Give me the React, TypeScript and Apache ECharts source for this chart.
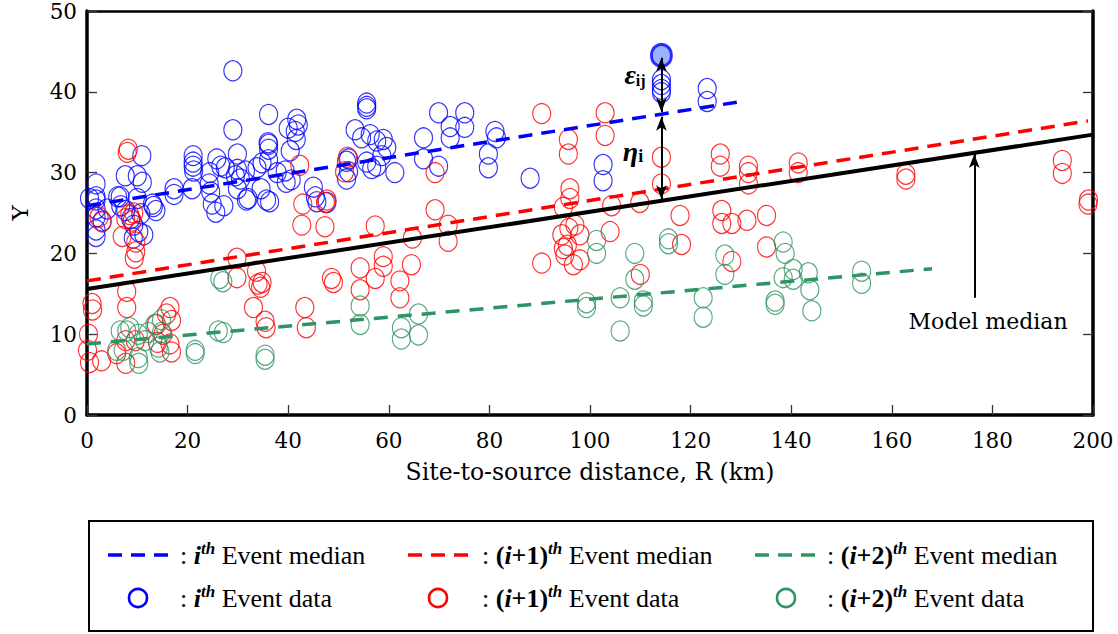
import React, { useEffect, useRef } from "react";
import * as echarts from "echarts";

// ---------- data ----------
const blueData: number[][] = [
  [29.0, 42.6], [29.0, 35.3], [36.1, 37.2], [41.7, 36.6], [42.0, 35.9], [41.4, 35.1], [41.6, 34.1],
  [36.1, 33.5], [36.1, 32.9], [40.4, 32.7], [10.9, 32.1], [21.1, 32.1], [21.1, 31.3], [21.1, 30.8],
  [21.2, 30.2], [25.8, 31.7], [26.6, 30.8], [29.9, 32.3], [29.9, 30.4], [7.6, 29.6], [10.0, 29.6],
  [11.0, 28.8], [24.4, 30.0], [27.5, 30.6], [29.5, 29.6], [31.5, 30.2], [33.8, 30.6], [34.8, 31.2],
  [36.1, 31.6], [37.8, 30.0], [39.4, 30.2], [39.6, 28.8], [1.8, 28.6], [1.8, 27.0], [1.8, 26.6],
  [1.8, 25.5], [1.8, 24.5], [1.8, 22.9], [1.8, 22.1], [4.0, 25.5], [6.6, 27.0], [6.7, 25.9],
  [7.7, 25.3], [8.7, 24.3], [9.3, 23.5], [10.3, 22.7], [11.3, 22.3], [10.0, 26.8], [10.7, 24.9],
  [13.0, 26.1], [13.7, 25.3], [17.3, 28.0], [17.3, 27.3], [20.9, 28.0], [24.3, 28.6], [24.6, 27.6],
  [24.9, 26.1], [25.6, 25.1], [27.2, 25.9], [30.5, 29.2], [29.9, 28.0], [32.0, 26.8], [34.6, 28.0],
  [36.3, 26.4], [35.7, 26.6], [31.7, 26.6], [40.6, 29.1], [45.0, 28.2], [45.4, 27.0], [45.7, 26.4],
  [47.7, 26.3], [40.0, 35.5], [36.0, 33.7], [55.6, 38.6], [55.6, 38.2], [55.6, 37.9], [53.3, 35.3],
  [54.6, 34.3], [56.3, 34.7], [57.6, 33.9], [58.9, 34.1], [59.6, 33.1], [58.6, 32.1], [57.6, 30.8],
  [61.2, 30.0], [55.6, 31.3], [56.6, 30.5], [51.6, 31.4], [51.6, 29.2], [52.0, 31.7], [52.0, 30.1],
  [66.9, 34.3], [66.9, 31.7], [69.9, 30.8], [69.9, 37.4], [72.2, 35.7], [72.2, 34.3], [75.1, 37.4],
  [75.1, 35.6], [79.8, 32.3], [79.8, 30.6], [81.1, 35.1], [81.4, 34.3], [88.1, 29.3], [114.2, 41.5],
  [114.2, 40.9], [114.2, 40.3], [114.2, 39.9], [123.3, 40.4], [123.3, 38.8], [102.6, 31.0],
  [102.6, 29.0], [13.2, 25.8], [6.1, 27.0], [0.5, 26.8], [3.0, 24.0], [9.2, 21.9]
];

const blueHighlight: number[][] = [[114.2, 44.5]];

const redData: number[][] = [
  [8.2, 32.9], [8.0, 32.5], [42.3, 30.9], [42.9, 26.1], [47.4, 26.3], [47.7, 26.6], [2.4, 24.5],
  [3.0, 23.9], [7.7, 24.3], [8.5, 24.8], [9.0, 24.0], [9.3, 25.0], [7.0, 22.1], [9.7, 21.4],
  [9.7, 20.2], [9.4, 19.4], [42.7, 23.5], [47.3, 23.3], [29.8, 19.4], [29.8, 17.0], [33.7, 17.8],
  [34.0, 16.2], [34.5, 15.8], [34.8, 16.4], [33.1, 13.3], [35.4, 11.6], [35.6, 10.8], [43.3, 13.3],
  [43.6, 10.8], [48.6, 16.9], [49.0, 16.4], [1.0, 13.8], [1.1, 13.0], [7.9, 15.3], [7.9, 13.3],
  [0.3, 10.0], [0.1, 8.0], [0.5, 6.5], [2.9, 6.7], [5.9, 7.6], [7.7, 6.4], [7.7, 9.2], [9.6, 9.2],
  [15.8, 12.5], [16.5, 13.3], [16.8, 11.7], [13.8, 11.2], [15.1, 10.0], [16.5, 8.8], [16.8, 7.8],
  [14.0, 9.0], [54.3, 18.2], [54.3, 15.5], [57.3, 23.4], [57.3, 16.9], [58.9, 19.6], [58.9, 18.4],
  [64.7, 21.9], [64.5, 18.6], [62.2, 16.6], [62.2, 14.5], [69.2, 25.4], [71.8, 23.5], [71.8, 21.5],
  [90.4, 18.8], [94.4, 22.3], [94.7, 20.6], [95.0, 19.8], [95.8, 23.1], [96.7, 18.6], [97.0, 23.5],
  [95.5, 21.0], [94.7, 25.7], [90.4, 37.3], [95.7, 34.1], [95.7, 32.3], [96.0, 28.0], [96.0, 26.8],
  [51.8, 31.9], [51.2, 30.1], [69.2, 30.0], [103.0, 37.4], [103.0, 34.6], [114.2, 31.9],
  [114.2, 28.6], [125.9, 32.3], [125.9, 30.8], [131.5, 30.8], [131.5, 30.0], [131.5, 28.6],
  [141.4, 31.2], [141.4, 30.0], [104.3, 25.9], [109.9, 26.3], [117.9, 24.7], [126.2, 25.3],
  [126.2, 23.7], [128.2, 23.7], [131.2, 24.1], [135.1, 24.7], [104.0, 22.7], [118.2, 21.1],
  [135.1, 20.8], [128.2, 19.0], [110.0, 17.4], [98.0, 22.3], [98.0, 19.2], [162.8, 29.8],
  [162.8, 29.2], [193.9, 31.5], [193.9, 29.9], [199.1, 26.6], [199.0, 26.1]
];

const greenData: number[][] = [
  [26.4, 16.9], [27.0, 16.5], [6.6, 10.4], [7.9, 10.4], [8.5, 10.8], [5.9, 8.0], [7.2, 8.0],
  [10.2, 7.1], [10.3, 6.4], [10.2, 10.0], [11.5, 9.2], [12.2, 10.2], [13.5, 11.2], [14.8, 11.8],
  [14.8, 10.2], [14.2, 8.4], [14.5, 7.8], [21.5, 8.0], [21.5, 7.6], [26.1, 10.4], [27.1, 10.2],
  [35.4, 7.4], [35.4, 6.9], [54.3, 13.5], [54.3, 11.2], [62.5, 10.8], [62.5, 9.4], [65.9, 12.5],
  [65.9, 9.9], [99.3, 13.9], [99.3, 13.3], [101.3, 21.6], [101.3, 20.0], [106.0, 14.5],
  [106.0, 10.4], [108.9, 20.0], [108.9, 16.8], [110.6, 14.1], [110.6, 13.5], [115.6, 21.8],
  [115.6, 21.2], [122.5, 14.5], [122.5, 12.1], [126.8, 19.8], [126.8, 17.4], [136.8, 14.1],
  [136.8, 13.7], [138.4, 21.4], [138.8, 20.0], [138.4, 17.0], [140.4, 18.0], [140.4, 16.8],
  [143.4, 17.6], [143.7, 15.5], [144.1, 12.9], [154.0, 17.8], [154.0, 16.3]
];

const modelMedian: number[][] = [[0, 15.6], [200, 34.7]];
const blueMedian: number[][] = [[0, 25.9], [130, 38.8]];
const redMedian: number[][] = [[0, 16.6], [199, 36.4]];
const greenMedian: number[][] = [[0, 8.8], [168, 18.1]];

// annotation arrows (data coords)
const epsArrow: number[][] = [[114.2, 44.2], [114.2, 37.5]];
const etaArrow: number[][] = [[114.2, 36.9], [114.2, 26.7]];
const modelArrow: number[][] = [[176.4, 14.5], [176.4, 32.3]];

const xTicks = [0, 20, 40, 60, 80, 100, 120, 140, 160, 180, 200];
const yTicks = [0, 10, 20, 30, 40, 50];

const BLUE = "#0000ff";
const RED = "#ff0000";
const GREEN = "#2e9463";
const AXIS_FONT = "DejaVu Serif";
const LEGEND_FONT = "Liberation Serif";

export default function App() {
  const ref = useRef<HTMLDivElement>(null);

  useEffect(() => {
    if (!ref.current) return;
    const chart = echarts.init(ref.current, undefined, { renderer: "svg" });

    const scatter = (name: string, data: number[][], color: string) => ({
      name,
      type: "scatter",
      data,
      symbol: "circle",
      symbolSize: [18, 20],
      itemStyle: { color: "transparent", borderColor: color, borderWidth: 1.2 },
      silent: true,
      z: 2,
    });

    const median = (name: string, data: number[][], color: string, width: number, dash: any) => ({
      name,
      type: "line",
      data,
      showSymbol: false,
      symbol: "none",
      lineStyle: { color, width, type: dash },
      silent: true,
      z: 4,
    });

    const arrowLine = (pts: number[][], startSym: string, endSym: string) => [
      { coord: pts[0], symbol: startSym, symbolSize: [8, 14] },
      { coord: pts[1], symbol: endSym, symbolSize: [8, 14] },
    ];

    const lf = 26;
    const rich = {
      n: { fontFamily: LEGEND_FONT, fontSize: lf, fill: "#000", lineHeight: 30 },
      b: { fontFamily: LEGEND_FONT, fontSize: lf, fontWeight: "bold", fill: "#000", lineHeight: 30 },
      bi: { fontFamily: LEGEND_FONT, fontSize: lf, fontWeight: "bold", fontStyle: "italic", fill: "#000", lineHeight: 30 },
      sup: { fontFamily: LEGEND_FONT, fontSize: 17, fontWeight: "bold", fontStyle: "italic", fill: "#000", verticalAlign: "top", lineHeight: 30 },
    };

    const legendText = (x: number, y: number, text: string) => ({
      type: "text",
      x,
      y,
      style: { text, rich, verticalAlign: "middle", align: "left", fill: "#000" },
      silent: true,
    });
    const legendLine = (x: number, y: number, color: string) => ({
      type: "line",
      shape: { x1: x, y1: y, x2: x + 60, y2: y },
      style: { stroke: color, lineWidth: 3.5, lineDash: [14, 9] },
      silent: true,
    });
    const legendCircle = (cx: number, cy: number, color: string) => ({
      type: "circle",
      shape: { cx, cy, r: 9 },
      style: { fill: "none", stroke: color, lineWidth: 2.6 },
      silent: true,
    });

    const row1 = 555;
    const row2 = 598;

    const tickStyle = { show: true, inside: true, length: 10, lineStyle: { color: "#333", width: 1.3 } };

    chart.setOption({
      animation: false,
      backgroundColor: "#fff",
      grid: { left: 87, right: 25, top: 7, bottom: 219, containLabel: false },
      xAxis: [
        {
          type: "value",
          min: xTicks[0],
          max: xTicks[xTicks.length - 1],
          interval: 20,
          position: "bottom",
          name: "Site-to-source distance, R (km)",
          nameLocation: "middle",
          nameGap: 45,
          nameTextStyle: { fontFamily: AXIS_FONT, fontSize: 23.5, color: "#000" },
          axisLine: { show: true, onZero: false, lineStyle: { color: "#000", width: 3.5 } },
          axisTick: tickStyle,
          axisLabel: { fontFamily: AXIS_FONT, fontSize: 21.5, color: "#000", margin: 14 },
          splitLine: { show: false },
        },
        {
          type: "value",
          min: 0,
          max: 200,
          interval: 20,
          position: "top",
          axisLine: { show: true, onZero: false, lineStyle: { color: "#000", width: 2.5 } },
          axisTick: { show: false },
          axisLabel: { show: false },
          splitLine: { show: false },
        },
      ],
      yAxis: [
        {
          type: "value",
          min: yTicks[0],
          max: yTicks[yTicks.length - 1],
          interval: 10,
          position: "left",
          name: "Y",
          nameLocation: "middle",
          nameGap: 56,
          nameRotate: 90,
          nameTextStyle: { fontFamily: AXIS_FONT, fontSize: 23, color: "#000" },
          axisLine: { show: true, onZero: false, lineStyle: { color: "#000", width: 3.5 } },
          axisTick: tickStyle,
          axisLabel: { fontFamily: AXIS_FONT, fontSize: 21.5, color: "#000", margin: 10 },
          splitLine: { show: false },
        },
        {
          type: "value",
          min: 0,
          max: 50,
          interval: 10,
          position: "right",
          axisLine: { show: true, onZero: false, lineStyle: { color: "#000", width: 3.5 } },
          axisTick: tickStyle,
          axisLabel: { show: false },
          splitLine: { show: false },
        },
      ],
      series: [
        scatter("i-th Event data", blueData, BLUE),
        scatter("(i+1)-th Event data", redData, RED),
        scatter("(i+2)-th Event data", greenData, GREEN),
        {
          name: "highlight",
          type: "scatter",
          data: blueHighlight,
          symbol: "circle",
          symbolSize: [20, 22],
          itemStyle: { color: "#7f9dff", borderColor: BLUE, borderWidth: 3 },
          silent: true,
          z: 3,
        },
        median("i-th Event median", blueMedian, BLUE, 3.5, [14, 9]),
        median("(i+1)-th Event median", redMedian, RED, 3.5, [14, 9]),
        median("(i+2)-th Event median", greenMedian, GREEN, 3.5, [14, 10]),
        {
          ...median("Model median", modelMedian, "#000", 4, "solid"),
          z: 5,
          markLine: {
            silent: true,
            animation: false,
            label: { show: false },
            lineStyle: { color: "#000", width: 2, type: "solid" },
            emphasis: { disabled: true },
            data: [
              arrowLine(epsArrow, "arrow", "arrow"),
              arrowLine(etaArrow, "arrow", "arrow"),
              arrowLine(modelArrow, "none", "arrow"),
            ],
          },
        },
      ],
      graphic: [
        {
          type: "text",
          x: 635,
          y: 74,
          style: {
            text: "{e|ε}{s|ij}",
            align: "center",
            verticalAlign: "middle",
            rich: {
              e: { fontFamily: LEGEND_FONT, fontSize: 28, fontWeight: "bold", fontStyle: "italic", fill: "#000" },
              s: { fontFamily: LEGEND_FONT, fontSize: 16, fontWeight: "bold", fill: "#000", verticalAlign: "bottom" },
            },
          },
          silent: true,
        },
        {
          type: "text",
          x: 633,
          y: 151,
          style: {
            text: "{e|η}{s|i}",
            align: "center",
            verticalAlign: "middle",
            rich: {
              e: { fontFamily: LEGEND_FONT, fontSize: 28, fontWeight: "bold", fontStyle: "italic", fill: "#000" },
              s: { fontFamily: LEGEND_FONT, fontSize: 18, fontWeight: "bold", fill: "#000", verticalAlign: "bottom" },
            },
          },
          silent: true,
        },
        {
          type: "text",
          x: 988,
          y: 321,
          style: {
            text: "Model median",
            align: "center",
            verticalAlign: "middle",
            fontFamily: AXIS_FONT,
            fontSize: 22,
            fill: "#000",
          },
          silent: true,
        },
        {
          type: "rect",
          shape: { x: 89, y: 521, width: 1004, height: 110 },
          style: { fill: "none", stroke: "#000", lineWidth: 2 },
          silent: true,
        },
        legendLine(108, row1, BLUE),
        legendText(180, row1, "{n|: }{bi|i}{sup|th}{n| Event median}"),
        legendLine(408, row1, RED),
        legendText(482, row1, "{n|: }{b|(}{bi|i}{b|+1)}{sup|th}{n| Event median}"),
        legendLine(755, row1, GREEN),
        legendText(827, row1, "{n|: }{b|(}{bi|i}{b|+2)}{sup|th}{n| Event median}"),
        legendCircle(138, row2, BLUE),
        legendText(180, row2, "{n|: }{bi|i}{sup|th}{n| Event data}"),
        legendCircle(438, row2, RED),
        legendText(482, row2, "{n|: }{b|(}{bi|i}{b|+1)}{sup|th}{n| Event data}"),
        legendCircle(786, row2, GREEN),
        legendText(827, row2, "{n|: }{b|(}{bi|i}{b|+2)}{sup|th}{n| Event data}"),
      ],
    });

    return () => chart.dispose();
  }, []);

  return (
    <div
      ref={ref}
      style={{ position: "fixed", left: 0, top: 0, width: 1118, height: 634, background: "#fff" }}
    />
  );
}
